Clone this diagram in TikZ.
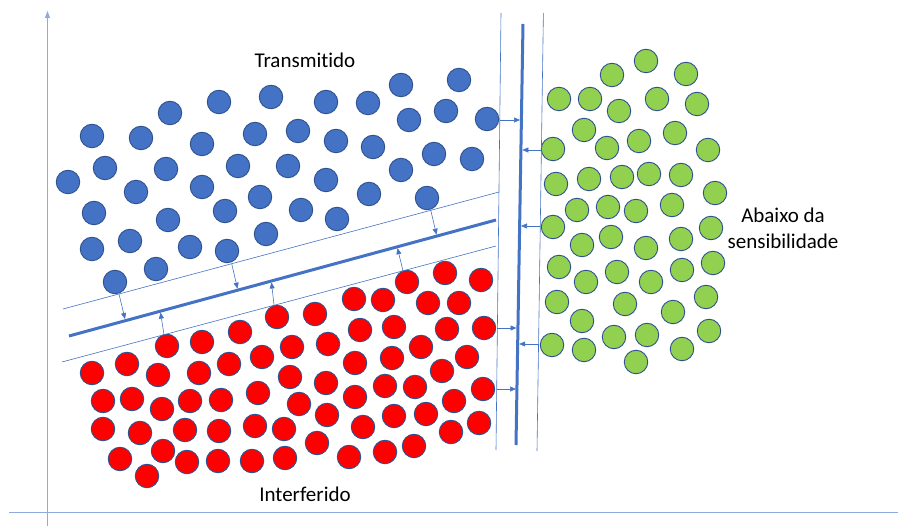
\documentclass[tikz,border=0pt]{standalone}
\usepackage{fontspec}
\setmainfont{Carlito}[Ligatures=NoCommon]
\usetikzlibrary{arrows.meta}
\definecolor{ofblue}{HTML}{4472C4}
\definecolor{ofedge}{HTML}{2F528F}
\definecolor{ofgreen}{HTML}{92D050}
\definecolor{axiscol}{HTML}{8FAADC}
\tikzset{
  dot/.style={circle,draw=ofedge,line width=0.9pt,minimum size=23.5pt,inner sep=0pt},
  bdot/.style={dot,fill=ofblue},
  rdot/.style={dot,fill=red},
  gdot/.style={dot,fill=ofgreen},
  thinln/.style={draw=ofblue,line width=0.6pt},
  thickln/.style={draw=ofblue,line width=3pt},
  axisln/.style={draw=axiscol,line width=0.8pt},
  arr/.style={draw=ofblue,line width=0.6pt,-{Triangle[length=6pt,width=5pt]}},
  lbl/.style={font=\fontsize{21}{26}\selectfont,align=center,inner sep=0pt}
}
\begin{document}
\begin{tikzpicture}[x=1pt,y=-1pt]
\useasboundingbox (0,0) rectangle (898,526);
% axes
\coordinate (ya0) at (47.5,526);
\coordinate (ya1) at (47.5,11);
\coordinate (xa0) at (9,512);
\coordinate (xa1) at (898,512);
\draw[axisln,-{Triangle[length=7pt,width=5pt]}] (ya0) -- (ya1);
\draw[axisln] (xa0) -- (xa1);
% blue
\foreach \x/\y [count=\i] in {92/136,141/138,170/113,219/102,271/97,202/144,255/134,105/168,166/169,238/166,68/182,136/192,202/187,260/197,94/213,168/220,225/211,92/249,130/241,190/247,227/251,266/234,156/269,115/282,326/102,368/103,401/85,459/80,298/131,336/141,373/147,409/120,446/111,487/119,434/154,472/159,288/166,326/180,401/170,301/210,337/219,369/194,427/198}
  \node[bdot] (b\i) at (\x,\y) {};
% red
\foreach \x/\y [count=\i] in {167/346,202/342,240/332,92/373,127/364,158/375,199/373,229/364,262/357,103/401,132/399,162/409,190/401,221/400,258/393,103/429,140/433,185/430,219/431,255/426,120/459,163/451,187/462,218/461,252/461,147/476,277/317,315/314,354/299,383/300,407/282,445/273,481/280,428/303,459/303,360/330,394/327,447/329,484/328,292/347,328/344,355/363,392/358,421/347,467/357,442/371,290/377,326/383,355/397,385/386,415/387,454/401,483/389,299/404,284/429,327/415,363/427,394/416,426/414,451/432,479/423,285/458,317/443,349/457,385/452,414/446}
  \node[rdot] (r\i) at (\x,\y) {};
% green
\foreach \x/\y [count=\i] in {646/61,612/75,686/74,559/99,590/99,619/111,657/99,697/104,584/130,607/148,639/141,675/133,708/150,553/149,556/184,589/179,622/177,649/174,681/175,715/193,577/210,608/207,636/211,672/205,553/227,582/245,611/237,646/248,681/239,711/228,559/267,586/282,617/272,651/282,682/270,713/263,557/302,582/321,625/304,673/312,706/297,552/345,584/350,614/337,647/335,682/349,709/331,636/362}
  \node[gdot] (g\i) at (\x,\y) {};
% diagonal boundary lines
\coordinate (ut0) at (63,309);  \coordinate (ut1) at (499,192);
\coordinate (tk0) at (69,336);  \coordinate (tk1) at (496,220);
\coordinate (lt0) at (62,362);  \coordinate (lt1) at (496,246);
\draw[thinln] (ut0) -- (ut1);
\draw[thickln] (tk0) -- (tk1);
\draw[thinln] (lt0) -- (lt1);
% vertical boundary lines
\coordinate (vl0) at (501,13);  \coordinate (vl1) at (496,450);
\coordinate (vk0) at (523,24);  \coordinate (vk1) at (516,445);
\coordinate (vr0) at (543.4,13);  \coordinate (vr1) at (537,451);
\draw[thinln] (vl0) -- (vl1);
\draw[thickln] (vk0) -- (vk1);
\draw[thinln] (vr0) -- (vr1);
% diagonal arrows
\coordinate (d1s) at (119,294);   \coordinate (d1e) at (125,319);
\coordinate (d2s) at (231.7,263.7); \coordinate (d2e) at (237.5,288.7);
\coordinate (d3s) at (430.7,210); \coordinate (d3e) at (436.5,234.7);
\coordinate (u1s) at (164,334.5); \coordinate (u1e) at (160.5,312.6);
\coordinate (u2s) at (274,305);   \coordinate (u2e) at (271.5,282.5);
\coordinate (u3s) at (403,271);   \coordinate (u3e) at (397.5,248.2);
\foreach \n in {d1,d2,d3,u1,u2,u3} \draw[arr] (\n s) -- (\n e);
% horizontal arrows
\coordinate (h1s) at (500,120);   \coordinate (h1e) at (520,120);
\coordinate (h2s) at (497,328);   \coordinate (h2e) at (516.5,328);
\coordinate (h3s) at (497,389);   \coordinate (h3e) at (516,389);
\coordinate (k1s) at (541.4,150); \coordinate (k1e) at (522.3,150);
\coordinate (k2s) at (540.2,226); \coordinate (k2e) at (521,226);
\coordinate (k3s) at (538.5,344); \coordinate (k3e) at (519.2,344);
\foreach \n in {h1,h2,h3,k1,k2,k3} \draw[arr] (\n s) -- (\n e);
% labels
\node[lbl] (tTrans) at (305,60) {Transmitido};
\node[lbl] (tInter) at (305,494) {Interferido};
\node[lbl] (tAbaixo) at (783,228) {Abaixo da\\sensibilidade};
\end{tikzpicture}
\end{document}
